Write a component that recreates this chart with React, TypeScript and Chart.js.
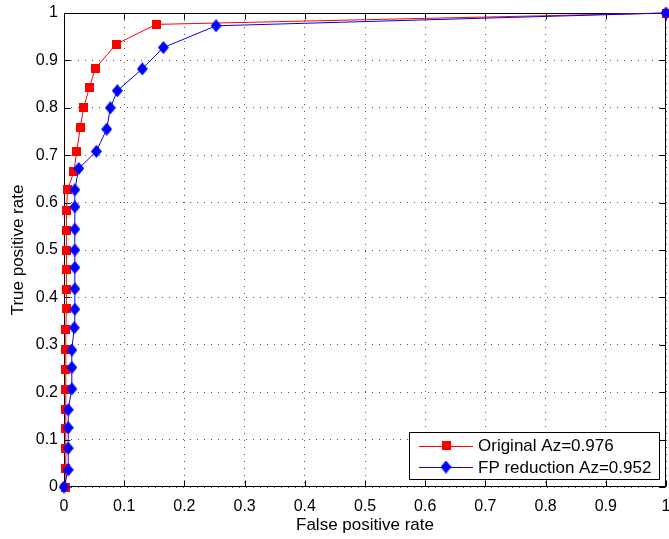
import React, { useEffect, useRef } from 'react';
import { Chart, registerables } from 'chart.js';

Chart.register(...registerables);

// ---- data ----
const redFpr = [0.003, 0.003, 0.003, 0.003, 0.003, 0.003, 0.003, 0.003, 0.003, 0.004, 0.004, 0.004, 0.004, 0.004, 0.004, 0.006, 0.0166, 0.021, 0.027, 0.0327, 0.042, 0.052, 0.0864, 0.153, 1];
const redTpr = [0, 0.039, 0.082, 0.123, 0.164, 0.206, 0.248, 0.29, 0.333, 0.376, 0.416, 0.458, 0.5, 0.542, 0.584, 0.627, 0.666, 0.707, 0.758, 0.801, 0.842, 0.883, 0.934, 0.976, 1];

const blueFpr = [0, 0.007, 0.007, 0.007, 0.007, 0.013, 0.013, 0.013, 0.017, 0.018, 0.018, 0.018, 0.018, 0.018, 0.018, 0.018, 0.0244, 0.0537, 0.071, 0.077, 0.0886, 0.13, 0.165, 0.2525, 1];
const blueTpr = [0, 0.036, 0.082, 0.125, 0.163, 0.207, 0.252, 0.289, 0.336, 0.375, 0.418, 0.463, 0.5, 0.544, 0.591, 0.627, 0.672, 0.708, 0.755, 0.8, 0.836, 0.882, 0.927, 0.973, 1];

const seriesLabels = ['Original Az=0.976', 'FP reduction Az=0.952'];
const tickValues = [0, 0.1, 0.2, 0.3, 0.4, 0.5, 0.6, 0.7, 0.8, 0.9, 1];
const tickLabels = ['0', '0.1', '0.2', '0.3', '0.4', '0.5', '0.6', '0.7', '0.8', '0.9', '1'];
const xTitle = 'False positive rate';
const yTitle = 'True positive rate';

const FONT = "'Liberation Sans', Arial, Helvetica, sans-serif";

function makeSquare(color: string) {
  const c = document.createElement('canvas');
  c.width = 9;
  c.height = 9;
  const g = c.getContext('2d')!;
  g.fillStyle = color;
  g.fillRect(0, 0, 9, 9);
  return c;
}

function makeDiamond(color: string) {
  const c = document.createElement('canvas');
  c.width = 11;
  c.height = 13;
  const g = c.getContext('2d')!;
  g.fillStyle = color;
  g.beginPath();
  g.moveTo(5.5, 0);
  g.lineTo(11, 6.5);
  g.lineTo(5.5, 13);
  g.lineTo(0, 6.5);
  g.closePath();
  g.fill();
  return c;
}

export default function App() {
  const ref = useRef<HTMLCanvasElement>(null);

  useEffect(() => {
    document.body.style.margin = '0';
    const square = makeSquare('#ff0000');
    const diamond = makeDiamond('#0000ff');
    const markers = [square, diamond];
    const colors = ['#ff0000', '#0000ff'];

    const boxPlugin = {
      id: 'matlabBox',
      beforeDatasetsDraw(chart: any) {
        const { ctx, chartArea: ca, scales } = chart;
        ctx.save();
        ctx.strokeStyle = '#000';
        ctx.lineWidth = 1;
        const l = Math.round(ca.left) + 0.5;
        const r = Math.round(ca.right) - 0.5;
        const t = Math.round(ca.top) + 0.5;
        const b = Math.round(ca.bottom) - 0.5;
        ctx.strokeRect(l, t, r - l, b - t);
        const tl = 6;
        ctx.beginPath();
        scales.x.ticks.forEach((tk: any) => {
          const px = Math.round(scales.x.getPixelForValue(tk.value)) + 0.5;
          ctx.moveTo(px, b);
          ctx.lineTo(px, b - tl);
          ctx.moveTo(px, t);
          ctx.lineTo(px, t + tl);
        });
        scales.y.ticks.forEach((tk: any) => {
          const py = Math.round(scales.y.getPixelForValue(tk.value)) + 0.5;
          ctx.moveTo(l, py);
          ctx.lineTo(l + tl, py);
          ctx.moveTo(r, py);
          ctx.lineTo(r - tl, py);
        });
        ctx.stroke();
        ctx.restore();
      },
    };

    const legendPlugin = {
      id: 'insideLegend',
      afterDraw(chart: any) {
        const { ctx, chartArea: ca } = chart;
        ctx.save();
        ctx.font = `17px ${FONT}`;
        const labels = chart.data.datasets.map((d: any) => d.label as string);
        const textW = Math.max(...labels.map((s: string) => ctx.measureText(s).width));
        const right = Math.round(ca.right - 7);
        const bottom = Math.round(ca.bottom - 8);
        const h = 47;
        const w = 10 + 54 + 5 + textW + 8;
        const left = Math.round(right - w);
        const top = bottom - h;
        ctx.fillStyle = '#fff';
        ctx.fillRect(left, top, right - left, h);
        ctx.strokeStyle = '#000';
        ctx.lineWidth = 1;
        ctx.strokeRect(left + 0.5, top + 0.5, right - left, h);
        labels.forEach((lab: string, i: number) => {
          const y = top + 13.5 + i * 21.5;
          ctx.strokeStyle = colors[i];
          ctx.lineWidth = 1;
          ctx.beginPath();
          ctx.moveTo(left + 10, Math.round(y) + 0.5);
          ctx.lineTo(left + 64, Math.round(y) + 0.5);
          ctx.stroke();
          const m = markers[i];
          ctx.drawImage(m, left + 37 - m.width / 2, y - m.height / 2);
          ctx.fillStyle = '#000';
          ctx.textBaseline = 'middle';
          ctx.textAlign = 'left';
          ctx.fillText(lab, left + 69, y + 1);
        });
        ctx.restore();
      },
    };

    const axisCommon = (title: string, isX: boolean) => ({
      type: 'linear' as const,
      min: 0,
      max: 1,
      afterBuildTicks: (s: any) => {
        s.ticks = tickValues.map((v) => ({ value: v }));
      },
      afterFit: (s: any) => {
        if (isX) s.height = 52;
        else s.width = 64;
        s.paddingLeft = 0;
        s.paddingRight = 0;
        s.paddingTop = 0;
        s.paddingBottom = 0;
      },
      ticks: {
        callback: (_v: any, i: number) => tickLabels[i],
        font: { family: FONT, size: 16 },
        color: '#000',
        padding: isX ? 10 : 6,
        maxRotation: 0,
        autoSkip: false,
      },
      grid: { color: '#555', lineWidth: 1, drawTicks: false },
      border: { display: false, dash: [1, 6] },
      title: {
        display: true,
        text: title,
        font: { family: FONT, size: 17 },
        color: '#000',
        padding: isX ? { top: 0, bottom: 3 } : { top: 8, bottom: 0 },
      },
    });

    const chart = new Chart(ref.current!, {
      type: 'scatter',
      data: {
        datasets: [
          {
            label: seriesLabels[0],
            data: redFpr.map((x, i) => ({ x, y: redTpr[i] })),
            borderColor: '#ff0000',
            backgroundColor: '#ff0000',
            borderWidth: 1,
            showLine: true,
            pointStyle: square as any,
            pointRadius: 5,
            tension: 0,
            clip: false as any,
            order: 2,
          },
          {
            label: seriesLabels[1],
            data: blueFpr.map((x, i) => ({ x, y: blueTpr[i] })),
            borderColor: '#0000ff',
            backgroundColor: '#0000ff',
            borderWidth: 1,
            showLine: true,
            pointStyle: diamond as any,
            pointRadius: 5,
            tension: 0,
            clip: false as any,
            order: 1,
          },
        ],
      },
      options: {
        responsive: false,
        animation: false,
        layout: { autoPadding: false, padding: { top: 13, right: 3, left: 0, bottom: 0 } },
        plugins: {
          legend: { display: false },
          tooltip: { enabled: false },
        },
        scales: {
          x: axisCommon(xTitle, true) as any,
          y: axisCommon(yTitle, false) as any,
        },
      },
      plugins: [boxPlugin, legendPlugin],
    });

    return () => chart.destroy();
  }, []);

  return (
    <div style={{ width: 669, height: 539 }}>
      <canvas ref={ref} width={669} height={539} style={{ display: 'block', width: 669, height: 539 }} />
    </div>
  );
}
